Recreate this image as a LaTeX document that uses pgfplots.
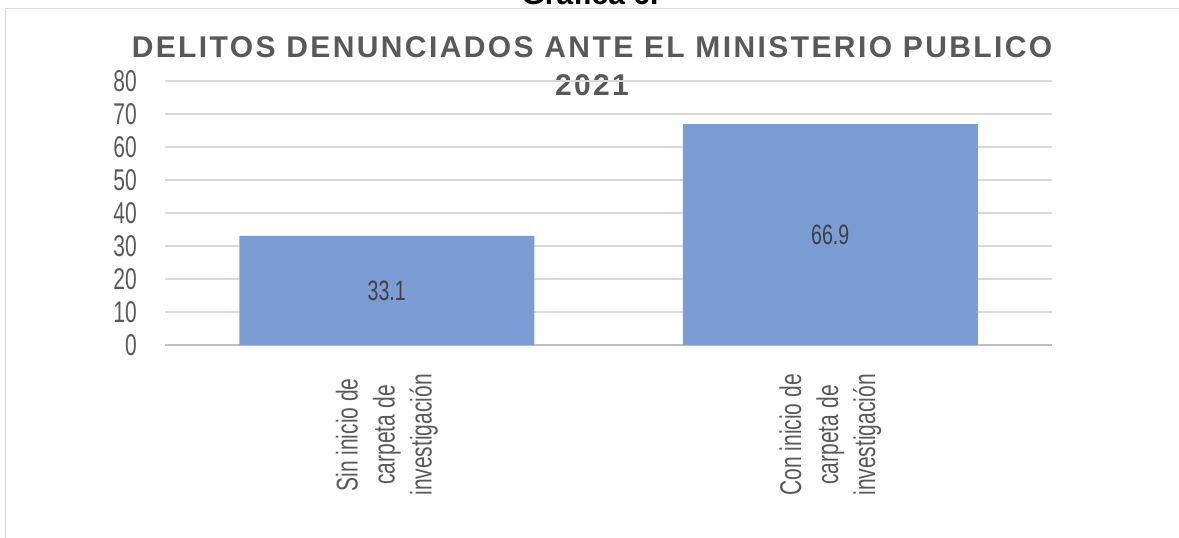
\documentclass[border=0pt]{standalone}
\usepackage{pgfplots}
\pgfplotsset{compat=1.18}
\usepackage{fontspec}
\setmainfont{Liberation Sans}
\newfontfamily\cond[FakeStretch=0.7]{Liberation Sans}
\definecolor{barblue}{RGB}{123,157,212}
\definecolor{txtgray}{RGB}{89,89,89}
\definecolor{valgray}{RGB}{64,64,64}
\definecolor{gridgray}{RGB}{217,217,217}
\definecolor{axgray}{RGB}{191,191,191}

\begin{document}
\begin{tikzpicture}[x=1pt,y=1pt]
\useasboundingbox (0,0) rectangle (1179,538);
% frame of the chart area
\draw[gridgray, line width=1pt] (5,-5) -- (5,529) -- (1190,529);
\node[anchor=base, font=\bfseries\fontsize{30}{36}\selectfont] at (590,533) {Gráfica 6.};
% title
\node[font=\bfseries\fontsize{30}{36}\selectfont\addfontfeatures{LetterSpace=8}, text=txtgray]
  at (592,491) {DELITOS DENUNCIADOS ANTE EL MINISTERIO PUBLICO};
\node[font=\bfseries\fontsize{30}{36}\selectfont\addfontfeatures{LetterSpace=8}, text=txtgray]
  at (592,453) {2021};

\begin{axis}[
  at={(165pt,193pt)}, anchor=south west,
  scale only axis, width=887pt, height=264pt,
  xmin=-0.5, xmax=1.5, ymin=0, ymax=80,
  enlargelimits=false,
  axis x line*=bottom, axis y line*=left,
  x axis line style={draw=axgray, line width=1.5pt, -},
  y axis line style={draw=none},
  major tick length=0pt,
  ytick={0,10,...,80},
  /pgf/number format/assume math mode=true,
  ymajorgrids, grid style={draw=gridgray, line width=1.2pt},
  yticklabel style={font=\cond\fontsize{30}{36}\selectfont, text=txtgray, inner sep=0pt, anchor=east, xshift=-28pt},
  xtick={0,1},
  xticklabels={{Sin inicio de\\carpeta de\\investigación},{Con inicio de\\carpeta de\\investigación}},
  xticklabel style={font=\cond\fontsize{30}{37}\selectfont, text=txtgray, align=center, inner sep=0pt, rotate=90, anchor=east},
  xticklabel shift=29pt,
]
\addplot[ybar, bar width=295pt, bar shift=0pt, fill=barblue, draw=none]
  coordinates {(0,33.1) (1,66.9)};
\addplot[draw=none, mark=none, nodes near coords, point meta=explicit symbolic,
  nodes near coords style={anchor=center, inner sep=0pt, font=\cond\fontsize{28}{34}\selectfont, text=valgray}]
  coordinates {(0,16.55) [33.1] (1,33.45) [66.9]};
\end{axis}
\end{tikzpicture}
\end{document}
